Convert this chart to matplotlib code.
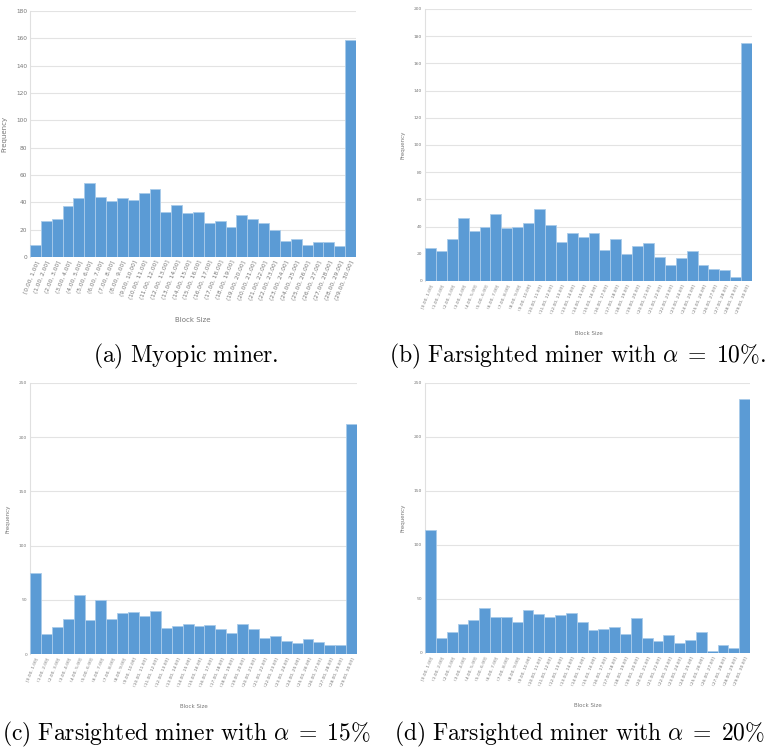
import numpy as np
import matplotlib
matplotlib.use('Agg')
import matplotlib.pyplot as plt

plt.rcParams['mathtext.fontset'] = 'cm'

W, H = 774, 750

bins = ['[0.00, 1.00]'] + ['({:.2f}, {:.2f}]'.format(i, i + 1) for i in range(1, 30)]

myopic = [9, 26, 28, 37, 43, 54, 44, 41, 43, 42, 47, 50, 33, 38, 32, 33, 25, 26, 22, 31,
          28, 25, 20, 12, 13, 9, 11, 11, 8, 159]
alpha10 = [24, 22, 31, 46, 37, 40, 49, 39, 40, 43, 53, 41, 29, 35, 32, 35, 23, 31, 20, 26,
           28, 18, 12, 17, 22, 12, 9, 8, 3, 175]
alpha15 = [75, 18, 25, 32, 54, 31, 50, 32, 38, 39, 35, 40, 24, 26, 28, 26, 27, 23, 19, 28,
           23, 15, 17, 12, 10, 14, 11, 8, 8, 212]
alpha20 = [114, 14, 19, 27, 31, 42, 33, 33, 29, 40, 36, 33, 35, 37, 29, 21, 22, 24, 18, 32,
           14, 11, 17, 9, 12, 19, 2, 7, 5, 235]

captions = [r'$\mathrm{(a)\ Myopic\ miner.}$',
            r'$\mathrm{(b)\ Farsighted\ miner\ with\ }\alpha\;=\;10\%\mathrm{.}$',
            r'$\mathrm{(c)\ Farsighted\ miner\ with\ }\alpha\;=\;15\%$',
            r'$\mathrm{(d)\ Farsighted\ miner\ with\ }\alpha\;=\;20\%$']

# pixel boxes: left, top, right, bottom ; ylim, ystep, tick label size, caption centre
panels = [
    (myopic, (30, 11, 356, 257), 180, 20, 4.2, (186, 356)),
    (alpha10, (425, 9, 752, 281), 200, 20, 3.2, (578, 356)),
    (alpha15, (30, 383, 357, 654), 250, 50, 3.2, (186, 734)),
    (alpha20, (425, 383, 750, 653), 250, 50, 3.2, (580, 734)),
]

fig = plt.figure(figsize=(W / 100, H / 100), dpi=100)

for (vals, box, ymax, ystep, lsize, cap_xy), cap in zip(panels, captions):
    l, t, r, b = box
    ax = fig.add_axes([l / W, 1 - b / H, (r - l) / W, (b - t) / H])
    x = np.arange(len(vals))
    ax.bar(x, vals, width=1.0, color='#5B9BD5', edgecolor='#A9CBEA', linewidth=0.6, zorder=3)
    ax.set_xlim(-0.5, len(vals) - 0.5)
    ax.set_ylim(0, ymax)
    ax.set_yticks(np.arange(0, ymax + 1, ystep))
    ax.yaxis.grid(True, color='#E3E3E3', linewidth=0.8, zorder=0)
    ax.set_axisbelow(True)
    for s in ['top', 'right', 'bottom']:
        ax.spines[s].set_visible(False)
    ax.spines['left'].set_color('#E0E0E0')
    ax.spines['left'].set_linewidth(0.8)
    ax.set_xticks(x)
    ax.set_xticklabels(bins, rotation=68, ha='right', rotation_mode='anchor',
                       fontsize=lsize, color='#777777')
    ax.tick_params(axis='both', length=0, pad=2, labelcolor='#777777')
    ax.tick_params(axis='y', labelsize=lsize)
    ax.set_ylabel('Frequency', fontsize=lsize + 0.8, color='#777777', labelpad=6)
    ax.set_xlabel('Block Size', fontsize=lsize + 0.8, color='#777777', labelpad=12)
    fig.text(cap_xy[0] / W, 1 - cap_xy[1] / H, cap, ha='center', va='center', fontsize=17)

fig.savefig('out.png', dpi=100)
